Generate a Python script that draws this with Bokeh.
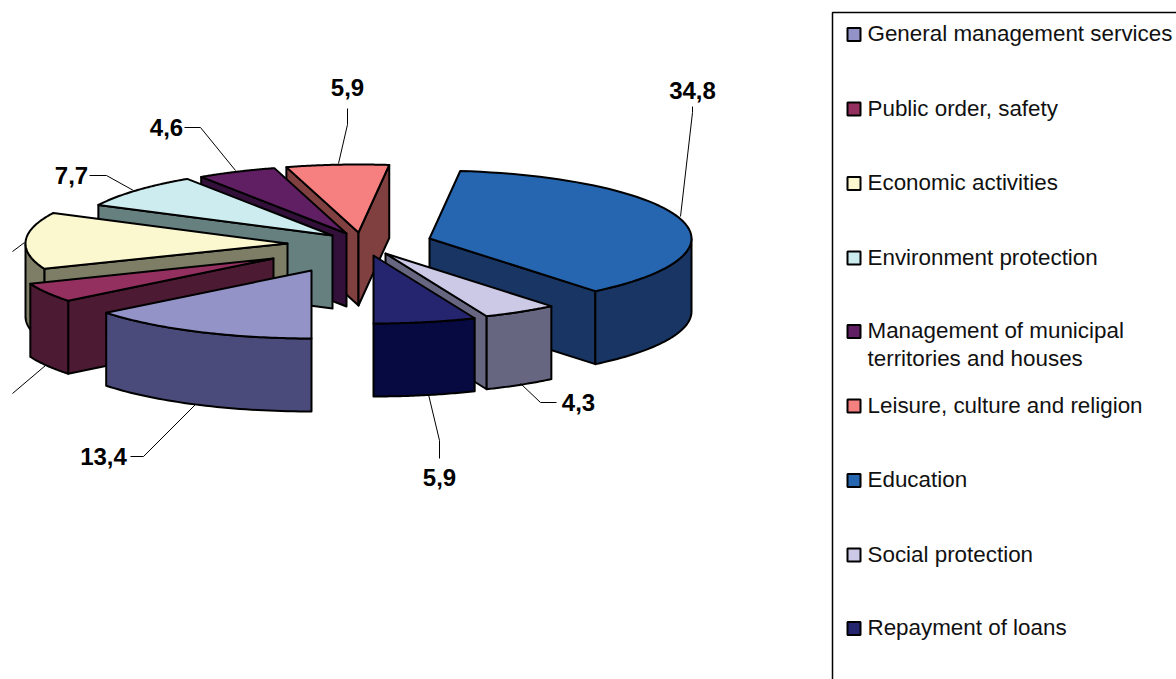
import numpy as np
from bokeh.plotting import figure
from bokeh.models import Range1d
from bokeh.core.properties import value
from bokeh.embed import file_html
from bokeh.resources import INLINE

# --- data -------------------------------------------------------------
categories = ["General management services", "Public order, safety", "Economic activities",
              "Environment protection", "Management of municipal\nterritories and houses",
              "Leisure, culture and religion", "Education", "Social protection", "Repayment of loans"]
shares = [13.4, 4.3, 12.6, 7.7, 4.6, 5.9, 34.8, 4.3, 5.9]
shown_labels = ["13,4", None, None, "7,7", "4,6", "5,9", "34,8", "4,3", "5,9"]

# --- styles -----------------------------------------------------------
top_colors = ["#9393C8", "#93305F", "#FBF7CE", "#CCECF0", "#5F1F62", "#F67F7F", "#2666B0", "#CCC9E6", "#25256F"]
wall_colors = ["#4B4B7B", "#4D1A33", "#7E7E66", "#667F7F", "#33103A", "#804040", "#183563", "#666680", "#060A40"]
FONT = "Liberation Sans"

# --- layout of the 3D pie: centre, radii, depth, per-slice explosion ---
CX, CY, RX, RY, DEPTH = 360, 240, 262, 68, 73
START = 180.0
explode = [(-49, 30), (-87, 18), (-73, 3), (-28, -5), (-14, -7), (-2, -8), (69, -2), (25, 13), (13, 15)]
paint_order = [5, 4, 3, 2, 1, 6, 7, 0, 8]

label_pos = {0: (103, 456), 3: (71, 175), 4: (166, 127), 5: (347, 87), 6: (692, 90), 7: (578, 402), 8: (439, 477)}
leaders = [
    ([130, 143, 195], [456, 456, 404]),
    ([89, 106, 133], [175, 175, 190]),
    ([184, 200, 235], [127, 127, 170]),
    ([347, 347, 338], [108, 124, 163]),
    ([692, 692, 680], [106, 112, 216]),
    ([556, 540, 520], [402, 402, 383]),
    ([439, 439, 428], [458, 440, 394]),
    ([24, 12], [242, 251]),
    ([45, 12], [365, 393]),
]
legend_x, legend_text_x = 853.5, 867
legend_rows = [34, 108.5, 183, 257.5, 331, 405.5, 480, 554.5, 628]

p = figure(width=1176, height=679, output_backend="svg", toolbar_location=None,
           x_range=Range1d(0, 1176), y_range=Range1d(679, 0), min_border=0)
p.axis.visible = False
p.grid.visible = False
p.outline_line_color = None

deg_per_unit = 360.0 / sum(shares)
edges = START + np.concatenate([[0], np.cumsum(shares)]) * deg_per_unit


def rim(ax, ay, theta):
    t = np.radians(theta)
    return ax + RX * np.sin(t), ay - RY * np.cos(t)


def poly(xs, ys, color):
    p.patch(list(xs), list(ys), fill_color=color, line_color="black", line_width=2, line_join="round")


for i in paint_order:
    a, b = edges[i], edges[i + 1]
    ax, ay = CX + explode[i][0], CY + explode[i][1]
    # radial walls facing the viewer
    sx, sy = rim(ax, ay, a)
    ex, ey = rim(ax, ay, b)
    if 180 < (a % 360) < 360:
        poly([ax, sx, sx, ax], [ay, sy, sy + DEPTH, ay + DEPTH], wall_colors[i])
    if 0 < (b % 360) < 180:
        poly([ax, ex, ex, ax], [ay, ey, ey + DEPTH, ay + DEPTH], wall_colors[i])
    # outer wall, where the rim faces the viewer
    for k in (0, 360):
        lo, hi = max(a, 90 + k), min(b, 270 + k)
        if lo < hi:
            th = np.linspace(lo, hi, 40)
            rx, ry = rim(ax, ay, th)
            poly(np.concatenate([rx, rx[::-1]]), np.concatenate([ry, ry[::-1] + DEPTH]), wall_colors[i])
    # top face
    th = np.linspace(a, b, 60)
    rx, ry = rim(ax, ay, th)
    poly(np.concatenate([[ax], rx]), np.concatenate([[ay], ry]), top_colors[i])

# leader lines and value labels
for xs, ys in leaders:
    p.line(xs, ys, line_color="black", line_width=1)
for i, (lx, ly) in label_pos.items():
    p.text([lx], [ly], text=[shown_labels[i]], text_font=value(FONT), text_font_style="bold",
           text_font_size="24px", text_align="center", text_baseline="middle", text_color="black")

# legend
p.line([1176, 832, 832], [12, 12, 679], line_color="black", line_width=1.5)
p.scatter([legend_x] * len(categories), legend_rows, marker="square", size=13, fill_color=top_colors,
          line_color="black", line_width=2)
for name, y in zip(categories, legend_rows):
    for j, part in enumerate(name.split("\n")):
        p.text([legend_text_x], [y - 1 + j * 27.5], text=[part], text_font=value(FONT), text_font_size="22.4px",
               text_align="left", text_baseline="middle", text_color="#111111")

open("out.html", "w").write(file_html(p, INLINE))
